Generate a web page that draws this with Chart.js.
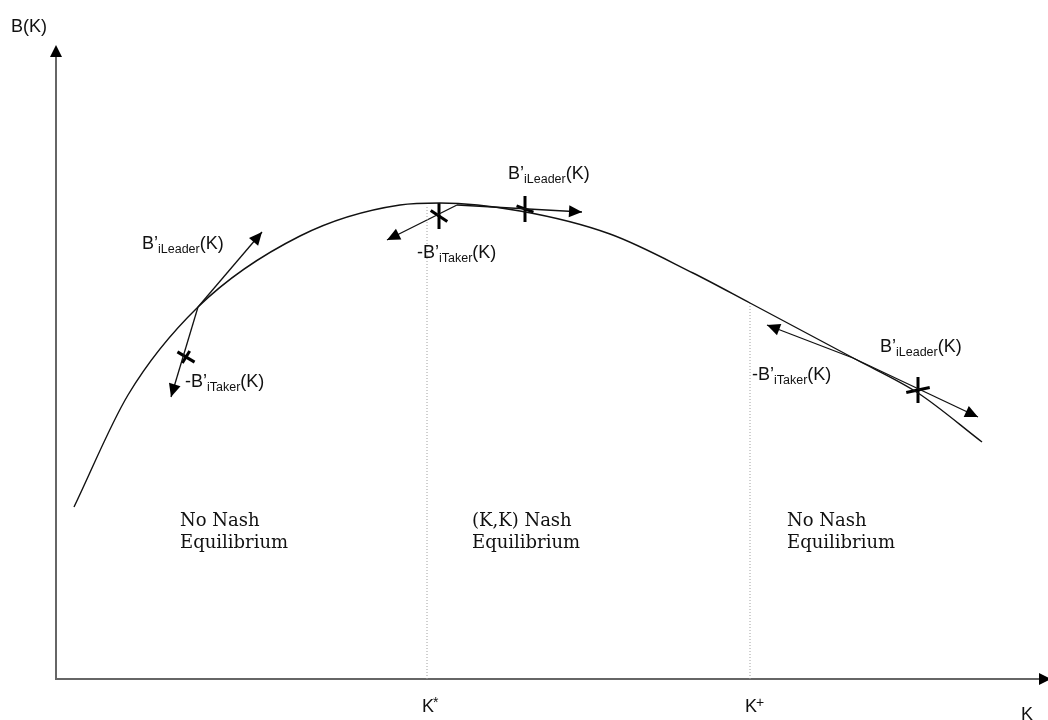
<!DOCTYPE html>
<html>
<head>
<meta charset="utf-8">
<script src="https://cdn.jsdelivr.net/npm/chart.js@4.4.1/dist/chart.umd.min.js"></script>
<style>
  html,body{margin:0;padding:0;background:#fff;}
  #wrap{width:1048px;height:720px;position:relative;}
</style>
</head>
<body>
<div id="wrap"><canvas id="c" width="1048" height="720"></canvas></div>
<script>
/* ── DATA (arbitrary units: K along x, B(K) along y) ── */
const curveK = [18, 72, 142, 244, 344, 384, 464, 554, 637, 694, 801, 862, 926];
const curveB = [172, 284, 372, 443, 474, 476, 468, 445, 406, 376, 319, 286, 237];

// tangent arrows: start on the curve, end at the arrow tip
const arrowFromK = [142, 142, 401, 401, 797, 797];
const arrowFromB = [372, 372, 474, 474, 321, 321];
const arrowToK   = [206, 115, 526, 331, 922, 711];
const arrowToB   = [447, 282, 467, 439, 262, 354];

// crossing marks
const barK   = [383, 469, 862];
const barB   = [463, 470, 289];
const slashK = [130, 130, 383, 469, 862];
const slashB = [322, 322, 463, 470, 289];
const slashAngle = [31, -58, 34, 20, -12];

// K* and K+ thresholds
const thresholdK   = [371, 694];
const thresholdTop = [474, 376];
const tickMain = ['K', 'K'];
const tickSup  = ['*', '+'];

// derivative labels
const derivPrefix = ['', '-', '', '-', '', '-'];
const derivSub    = ['iLeader', 'iTaker', 'iLeader', 'iTaker', 'iLeader', 'iTaker'];
const derivK      = [86, 129, 452, 361, 824, 696];
const derivB      = [430, 292, 500, 421, 327, 299];

// region labels
const regionLine1 = ['No Nash', '(K,K) Nash', 'No Nash'];
const regionLine2 = ['Equilibrium', 'Equilibrium', 'Equilibrium'];
const regionK     = [124, 416, 731];
const regionB     = 153;

const pts = (xs, ys) => xs.map((x, i) => ({x, y: ys[i]}));

/* ── DATASETS ── */
const datasets = [];
datasets.push({ data: pts(curveK, curveB), borderColor:'#111', borderWidth:1.4,
  pointRadius:0, cubicInterpolationMode:'monotone', fill:false });
thresholdK.forEach((k, i) => datasets.push({
  data: [{x:k, y:0}, {x:k, y:thresholdTop[i]}],
  borderColor:'#a0a0a0', borderWidth:1, borderDash:[1,2], pointRadius:0 }));
arrowFromK.forEach((k, i) => datasets.push({
  data: [{x:k, y:arrowFromB[i]}, {x:arrowToK[i], y:arrowToB[i]}],
  borderColor:'#111', borderWidth:1.3, pointRadius:0, arrow:true }));
datasets.push({ type:'scatter', data: pts(barK, barB), pointStyle:'line', pointRotation:90,
  pointRadius:13, pointBorderWidth:3, pointBorderColor:'#000', showLine:false });
datasets.push({ type:'scatter', data: pts(slashK, slashB), pointStyle:'line', pointRotation:slashAngle,
  pointRadius:[10, 7, 10, 9, 12], pointBorderWidth:3, pointBorderColor:'#000', showLine:false });

/* ── PLUGIN: axes, arrowheads, texts ── */
function head(ctx, x0, y0, x1, y1, len, half) {
  const a = Math.atan2(y1 - y0, x1 - x0);
  ctx.beginPath();
  ctx.moveTo(x1, y1);
  ctx.lineTo(x1 - len*Math.cos(a) + half*Math.sin(a), y1 - len*Math.sin(a) - half*Math.cos(a));
  ctx.lineTo(x1 - len*Math.cos(a) - half*Math.sin(a), y1 - len*Math.sin(a) + half*Math.cos(a));
  ctx.closePath();
  ctx.fill();
}

const sans = '"Liberation Sans", Arial, sans-serif';
const serif = '"DejaVu Serif", serif';

const diagram = {
  id:'diagram',
  beforeDatasetsDraw(chart) {
    const {ctx, chartArea:ca} = chart;
    ctx.save();
    ctx.strokeStyle = '#666';
    ctx.lineWidth = 2;
    ctx.beginPath();
    ctx.moveTo(ca.left, ca.top + 8);
    ctx.lineTo(ca.left, ca.bottom);
    ctx.lineTo(ca.right - 6, ca.bottom);
    ctx.stroke();
    ctx.fillStyle = '#000';
    head(ctx, ca.left, ca.bottom, ca.left, ca.top, 12, 6);
    head(ctx, ca.left, ca.bottom, ca.right + 3, ca.bottom, 12, 6);
    ctx.restore();
  },
  afterDatasetsDraw(chart) {
    const {ctx, scales:{x, y}} = chart;
    ctx.save();
    ctx.fillStyle = '#000';
    chart.data.datasets.forEach((ds, i) => {
      if (!ds.arrow) return;
      const el = chart.getDatasetMeta(i).data;
      head(ctx, el[0].x, el[0].y, el[1].x, el[1].y, 13, 6);
    });

    ctx.fillStyle = '#111';
    ctx.textBaseline = 'alphabetic';
    // axis titles
    ctx.font = '18px ' + sans;
    ctx.fillText('B(K)', 11, 32);
    ctx.fillText('K', 1021, 720);
    thresholdK.forEach((k, i) => {
      const px = x.getPixelForValue(k) - 5;
      ctx.font = '18px ' + sans;
      ctx.fillText(tickMain[i], px, 712);
      const w = ctx.measureText(tickMain[i]).width;
      ctx.font = '14px ' + sans;
      ctx.fillText(tickSup[i], px + w - 1, 707);
    });

    // derivative labels
    derivK.forEach((k, i) => {
      let px = x.getPixelForValue(k);
      const py = y.getPixelForValue(derivB[i]);
      ctx.font = '18px ' + sans;
      const head1 = derivPrefix[i] + 'B\u2019';
      ctx.fillText(head1, px, py);
      px += ctx.measureText(head1).width;
      ctx.font = '12.5px ' + sans;
      ctx.fillText(derivSub[i], px, py + 4);
      px += ctx.measureText(derivSub[i]).width;
      ctx.font = '18px ' + sans;
      ctx.fillText('(K)', px, py);
    });

    // region labels
    ctx.font = '18px ' + serif;
    regionK.forEach((k, i) => {
      const px = x.getPixelForValue(k);
      const py = y.getPixelForValue(regionB);
      ctx.fillText(regionLine1[i], px, py);
      ctx.fillText(regionLine2[i], px, py + 22);
    });
    ctx.restore();
  }
};

/* ── CHART ── */
new Chart(document.getElementById('c').getContext('2d'), {
  type:'line',
  data:{ datasets },
  options:{
    responsive:false,
    animation:false,
    events:[],
    layout:{ autoPadding:false, padding:{ left:56, right:0, top:45, bottom:41 } },
    plugins:{ legend:{display:false}, tooltip:{enabled:false} },
    scales:{
      x:{ type:'linear', min:0, max:992, display:false },
      y:{ type:'linear', min:0, max:634, display:false }
    }
  },
  plugins:[diagram]
});
</script>
</body>
</html>
